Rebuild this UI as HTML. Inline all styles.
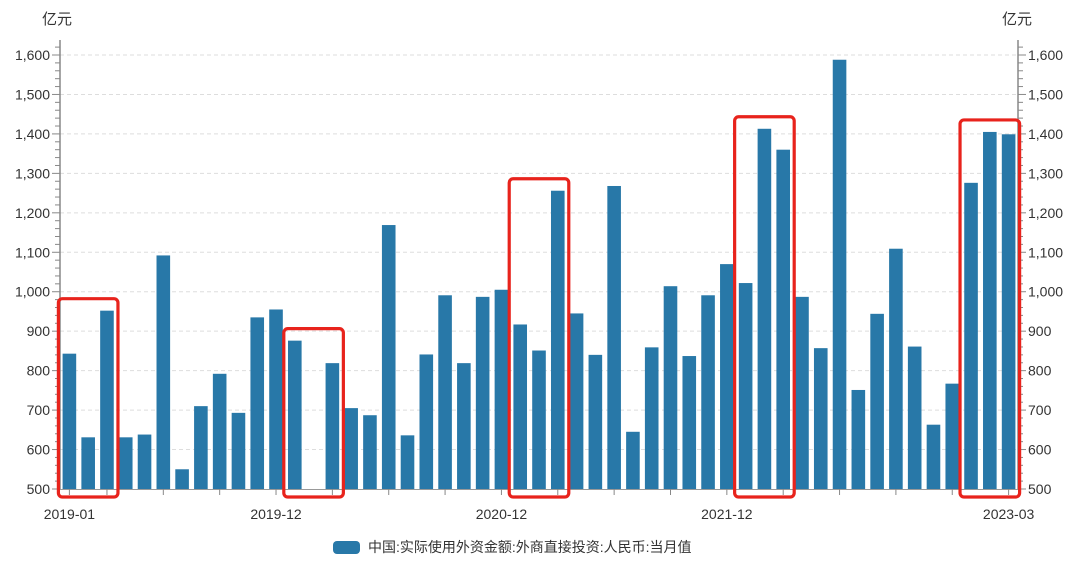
<!DOCTYPE html>
<html><head><meta charset="utf-8"><style>
html,body{margin:0;padding:0;background:#fff;}
svg{display:block;font-family:"Liberation Sans","Noto Sans CJK SC",sans-serif;}
</style></head><body>
<svg id="chart" width="1080" height="561" viewBox="0 0 1080 561" xmlns="http://www.w3.org/2000/svg">
<g id="grid"></g>
<g id="bars"></g>
<g id="axes"></g>
<g id="boxes"></g>
<text x="42" y="24" font-size="15" fill="#333">亿元</text>
<text x="1002" y="24" font-size="15" fill="#333">亿元</text>
<g>
<rect x="333" y="541" width="27" height="13" rx="4" fill="#2878a8"/>
<text x="368" y="552" font-size="14" fill="#333">中国:实际使用外资金额:外商直接投资:人民币:当月值</text>
</g>
</svg>
<script>
const categories = [];
for (let y = 2019; y <= 2023; y++) for (let m = 1; m <= 12; m++) { if (y === 2023 && m > 3) break; categories.push(y + '-' + String(m).padStart(2, '0')); }
const values = [843,631,952,631,638,1092,550,710,792,693,935,955,876,498,819,705,687,1169,636,841,991,819,987,1005,917,851,1256,945,840,1268,645,859,1014,837,991,1070,1022,1413,1360,987,857,1588,751,944,1109,861,663,767,1276,1405,1399];
const yTicks = [500,600,700,800,900,1000,1100,1200,1300,1400,1500,1600];
const xLabels = ['2019-01','2019-12','2020-12','2021-12','2023-03'];
const highlightGroups = [['2019-01','2019-03'],['2020-01','2020-03'],['2021-01','2021-03'],['2022-01','2022-03'],['2023-01','2023-03']];

const NS = 'http://www.w3.org/2000/svg';
const X0 = 60, X1 = 1018, Y0 = 489, Y1 = 55, VMIN = 500, VMAX = 1600;
const band = (X1 - X0) / categories.length;
const xc = i => X0 + band * (i + 0.5);
const yv = v => Y0 - (v - VMIN) / (VMAX - VMIN) * (Y0 - Y1);
function mk(tag, attrs, parent) { const e = document.createElementNS(NS, tag); for (const k in attrs) e.setAttribute(k, attrs[k]); parent.appendChild(e); return e; }

const grid = document.getElementById('grid');
const barsG = document.getElementById('bars');
const axes = document.getElementById('axes');
const boxes = document.getElementById('boxes');

yTicks.forEach(t => {
  if (t === VMIN) return;
  const l = mk('line', {x1: X0, x2: X1, y1: yv(t), y2: yv(t), stroke: '#ddd', 'stroke-dasharray': '4,3', 'stroke-width': 1}, grid);
  
  
});

values.forEach((v, i) => {
  const top = yv(Math.max(v, VMIN));
  const r = mk('rect', {x: xc(i) - 6.8, y: top, width: 13.6, height: Math.max(Y0 - top, 0.5), fill: '#2878a8'}, barsG);
  
  
});

// axes lines
mk('line', {x1: X0, x2: X0, y1: 40, y2: Y0 + 1, stroke: '#888', 'stroke-width': 1.5}, axes);
mk('line', {x1: X1, x2: X1, y1: 40, y2: Y0 + 1, stroke: '#888', 'stroke-width': 1.5}, axes);
mk('line', {x1: X0, x2: X1, y1: Y0 + 0.5, y2: Y0 + 0.5, stroke: '#999', 'stroke-width': 1}, axes);
for (let v = VMIN; v <= 1660; v += 20) {
  const y = yv(v); if (y < 40) break;
  const major = v % 100 === 0;
  mk('line', {x1: X0 - (major ? 8 : 5), x2: X0, y1: y, y2: y, stroke: '#888', 'stroke-width': 1}, axes);
  mk('line', {x1: X1, x2: X1 + (major ? 8 : 5), y1: y, y2: y, stroke: '#888', 'stroke-width': 1}, axes);
}
yTicks.forEach(t => {
  const s = t.toLocaleString('en-US');
  const a = mk('text', {x: X0 - 10, y: yv(t) + 5, 'font-size': 14, fill: '#333', 'text-anchor': 'end'}, axes);
  a.textContent = s;
  
  
  const b = mk('text', {x: X1 + 10, y: yv(t) + 5, 'font-size': 14, fill: '#333'}, axes);
  b.textContent = s;
  
  
});
categories.forEach((c, i) => {
  if (i === 0 || i % 3 === 2) mk('line', {x1: xc(i), x2: xc(i), y1: Y0, y2: Y0 + 6, stroke: '#888', 'stroke-width': 1}, axes);
});
xLabels.forEach(lbl => {
  const i = categories.indexOf(lbl);
  const t = mk('text', {x: xc(i), y: Y0 + 30, 'font-size': 14, fill: '#333', 'text-anchor': 'middle'}, axes);
  t.textContent = lbl;
  
  
});

highlightGroups.forEach(g => {
  const a = categories.indexOf(g[0]), b = categories.indexOf(g[1]);
  let mx = 0; for (let i = a; i <= b; i++) mx = Math.max(mx, values[i]);
  const r = mk('rect', {x: xc(a) - 11, y: yv(mx) - 12, width: xc(b) - xc(a) + 22, height: Y0 + 8 - (yv(mx) - 12), rx: 4, fill: 'none', stroke: '#e8231c', 'stroke-width': 3.2}, boxes);
  
  
});
</script>
</body></html>
